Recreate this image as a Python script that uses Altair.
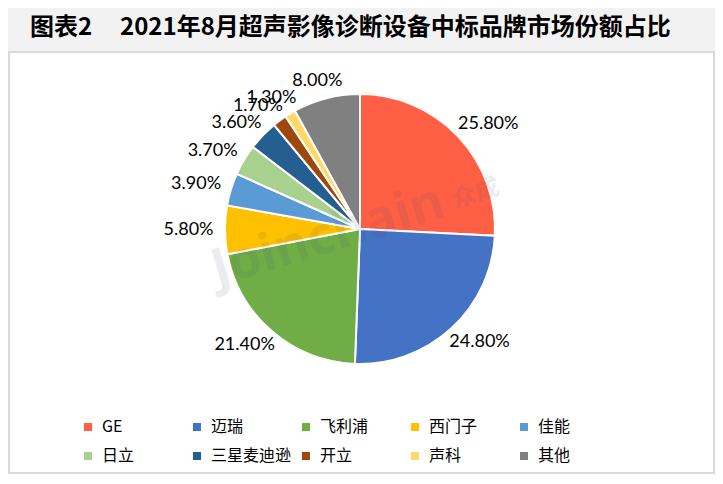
import altair as alt
import pandas as pd

brands = ["GE", "迈瑞", "飞利浦", "西门子", "佳能", "日立", "三星麦迪逊", "开立", "声科", "其他"]
shares = [25.8, 24.8, 21.4, 5.8, 3.9, 3.7, 3.6, 1.7, 1.3, 8.0]
colors = ["#FF5F45", "#4472C4", "#70AD47", "#FFC000", "#5B9BD5",
          "#A9D18E", "#255E91", "#9E480E", "#FFD966", "#808080"]
title_label = "图表2"
title_main = "2021年8月超声影像诊断设备中标品牌市场份额占比"
watermark_main = "Joinchain"
watermark_cn = "众成"

W, H = 707, 466
CX, CY, R = 352, 221, 135

df = pd.DataFrame({"brand": brands, "share": shares, "order": list(range(len(brands)))})

one = alt.Data(values=[{}])

title_bg = alt.Chart(one).mark_rect(color="#F2F2F2").encode(
    x=alt.value(0), x2=alt.value(W), y=alt.value(0), y2=alt.value(43))

border = alt.Chart(one).mark_rect(fill="white", stroke="#D9D9D9", strokeWidth=2).encode(
    x=alt.value(1), x2=alt.value(W - 1), y=alt.value(44), y2=alt.value(H - 1))

t1 = alt.Chart(one).mark_text(text=title_label, font="Noto Sans CJK SC", fontWeight="bold",
                              fontSize=24, align="left", baseline="middle", color="#000000").encode(
    x=alt.value(22), y=alt.value(20))
t2 = alt.Chart(one).mark_text(text=title_main, font="Noto Sans CJK SC", fontWeight="bold",
                              fontSize=24, align="left", baseline="middle", color="#000000").encode(
    x=alt.value(112), y=alt.value(20))

pie = alt.Chart(df).mark_arc(outerRadius=R, stroke="white", strokeWidth=2).encode(
    theta=alt.Theta("share:Q", stack=True),
    order=alt.Order("order:Q"),
    color=alt.Color("brand:N", scale=alt.Scale(domain=brands, range=colors),
                    legend=alt.Legend(title=None, orient="none", legendX=72, legendY=411,
                                      direction="horizontal",
                                      columns=5, gridAlign="all", symbolType="square",
                                      symbolSize=64, symbolStrokeWidth=0,
                                      labelFont="Noto Sans CJK SC", labelFontSize=16,
                                      labelColor="#000000", labelOffset=6,
                                      rowPadding=13, columnPadding=6, padding=0)),
    x=alt.value(CX), y=alt.value(CY),
)

labels = alt.Chart(df).transform_window(
    cum="sum(share)", sort=[alt.SortField("order")], frame=[None, 0]
).transform_calculate(
    a="(datum.cum - datum.share/2) / 100 * 2 * PI",
    label="format(datum.share, '.2f') + '%'",
).transform_calculate(
    hw="length(datum.label) * 5.5",
).transform_calculate(
    lx=f"{CX} + sin(datum.a) * ({R} + 9) + sin(datum.a) * datum.hw",
    ly=f"{CY} - cos(datum.a) * ({R} + 9) - cos(datum.a) * 9",
).mark_text(font="Lato", fontSize=18, color="#000000", align="center", baseline="middle").encode(
    x=alt.X("lx:Q", scale=None),
    y=alt.Y("ly:Q", scale=None),
    text="label:N",
)

wm1 = alt.Chart(one).mark_text(text=watermark_main, font="Noto Sans", fontWeight="bold",
                               fontSize=52, angle=343, color="#44546A", opacity=0.1,
                               align="center", baseline="middle").encode(
    x=alt.value(320), y=alt.value(228))
wm2 = alt.Chart(one).mark_text(text=watermark_cn, font="Noto Sans CJK SC", fontWeight="bold",
                               fontSize=24, angle=343, color="#44546A", opacity=0.1,
                               align="center", baseline="middle").encode(
    x=alt.value(468), y=alt.value(186))

chart = alt.layer(title_bg, border, t1, t2, pie, labels, wm1, wm2).properties(
    width=W, height=H, padding=0, autosize=alt.AutoSizeParams(type="none"),
    background="white",
).configure_view(stroke=None)

chart.save("out.html", embed_options={"renderer": "svg", "actions": False})
